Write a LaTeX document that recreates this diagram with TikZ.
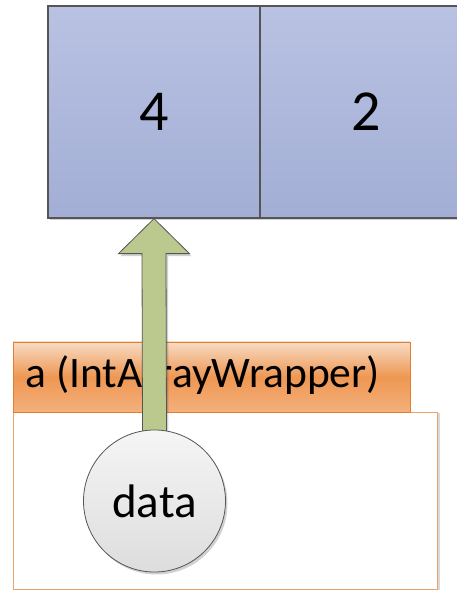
\documentclass[tikz,border=0pt]{standalone}
\usepackage{fontspec}
\setmainfont{Carlito}
\usetikzlibrary{calc,shadows}

\definecolor{cellTop}{HTML}{B9C2E2}
\definecolor{cellBot}{HTML}{A3AED6}
\definecolor{lineGray}{HTML}{555555}
\definecolor{hdrTop}{HTML}{F8DBC4}
\definecolor{hdrMid}{HTML}{EE9752}
\definecolor{hdrBot}{HTML}{F4B07C}
\definecolor{hdrLine}{HTML}{E07F33}
\definecolor{bodyLine}{HTML}{E9A26C}
\definecolor{ptrGreen}{HTML}{BBC98F}
\definecolor{dotTop}{HTML}{F5F5F5}
\definecolor{dotBot}{HTML}{DDDDDD}

\pgfdeclarelayer{boxes}
\pgfdeclarelayer{pointer}
\pgfsetlayers{boxes,pointer,main}

\tikzset{
  softshadow/.style={drop shadow={shadow xshift=2pt,shadow yshift=-2.5pt,opacity=0.18,fill=black}},
  cell/.style={draw=lineGray,line width=1.3pt,top color=cellTop,bottom color=cellBot,
    minimum width=212pt,minimum height=212pt,inner sep=0pt,font=\fontsize{58}{60}\selectfont,softshadow},
  header/.style={draw=hdrLine,line width=0.8pt,top color=hdrTop,bottom color=hdrBot,middle color=hdrMid,
    minimum width=397pt,minimum height=70pt,inner sep=0pt},
  body/.style={draw=bodyLine,line width=0.8pt,fill=white,minimum width=424pt,minimum height=177pt,inner sep=0pt,
    drop shadow={shadow xshift=2.5pt,shadow yshift=-1pt,opacity=0.15,fill=black}},
  dot/.style={circle,draw=lineGray,line width=0.8pt,top color=dotTop,bottom color=dotBot,
    minimum size=142pt,inner sep=0pt,font=\fontsize{47}{50}\selectfont,softshadow},
  pointer/.style={draw=lineGray,line width=0.8pt,fill=ptrGreen,line join=miter,softshadow},
}

\begin{document}
\begin{tikzpicture}[x=1pt,y=1pt]
  \useasboundingbox (0,0) rectangle (457,590);

  \begin{pgfonlayer}{boxes}
    \fill[white] (0,0) rectangle (457,590);
    % the int array: two cells
    \node[cell] (cellA) at (154,478) {4};
    \node[cell] (cellB) at (366,478) {2};
    % the wrapper object: title bar and body
    \node[body] (wbody) at (225,89.5) {};
    \node[header] (whead) at (211.5,213) {};
    \node[anchor=base west,font=\fontsize{43.5}{46}\selectfont] (wlabel) at (22,202) {a (IntArrayWrapper)};
  \end{pgfonlayer}

  % the data field
  \node[dot] (data) at (154.5,89) {data};

  % block arrow from the field to the first cell
  \begin{pgfonlayer}{pointer}
    \coordinate (tip) at (cellA.south);
    \coordinate (root) at (data.north);
    \path[pointer]
      ($(root)+(-12,-2)$) -- ($(tip)+(-12,-35)$) -- ($(tip)+(-35.5,-35)$) -- (tip)
      -- ($(tip)+(35.5,-35)$) -- ($(tip)+(12,-35)$) -- ($(root)+(12,-2)$) -- cycle;
  \end{pgfonlayer}
\end{tikzpicture}
\end{document}
